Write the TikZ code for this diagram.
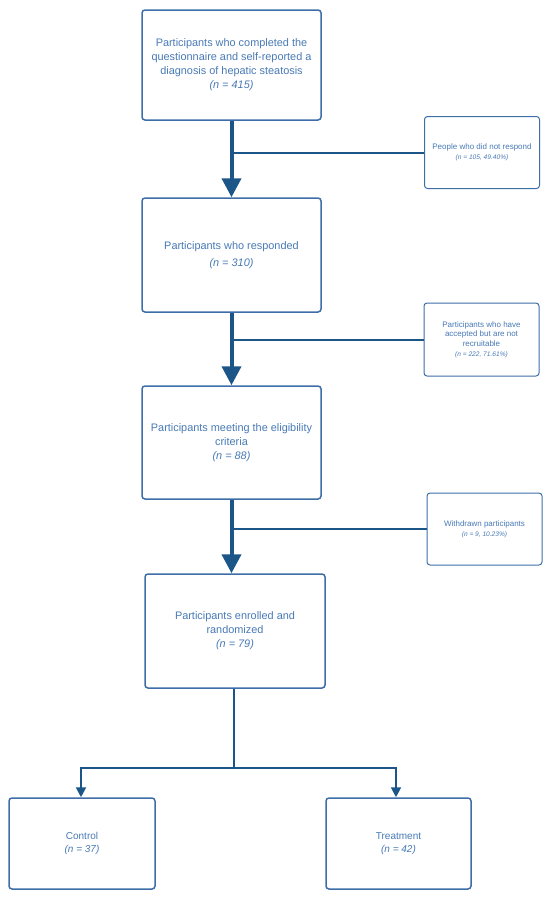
\documentclass[tikz,border=0pt]{standalone}
\usepackage{fontspec}
\setmainfont{Liberation Sans}
\usetikzlibrary{arrows.meta}
\definecolor{boxc}{RGB}{62,110,168}
\definecolor{txtc}{RGB}{72,122,182}
\definecolor{arrc}{RGB}{28,86,136}
\tikzset{
  mainbox/.style={draw=boxc, line width=1.5pt, rounded corners=3pt, fill=white,
    inner sep=0pt, align=center, text=txtc, font=\fontsize{10.9}{14}\selectfont},
  sidebox/.style={draw=boxc, line width=1pt, rounded corners=3pt, fill=white,
    inner sep=0pt, align=center, text=txtc, font=\fontsize{8}{9.6}\selectfont},
  bigarrow/.style={draw=arrc, line width=4pt, -{Triangle[width=19pt,length=19pt]}},
  sideline/.style={draw=arrc, line width=2pt},
  branch/.style={draw=arrc, line width=2pt},
  smallarrow/.style={draw=arrc, line width=2pt, -{Triangle[width=10pt,length=10pt]}},
}
\newcommand{\smallit}[1]{{\fontsize{6.6}{8}\selectfont\textit{#1}}}
\begin{document}
\begin{tikzpicture}[x=1pt,y=-1pt]
\useasboundingbox (0,0) rectangle (550,900);
\node[mainbox, minimum width=179pt, minimum height=110pt] (b1) at (231.5,65)
  {Participants who completed the\\questionnaire and self-reported a\\diagnosis of hepatic steatosis\\\textit{(n = 415)}};
\node[mainbox, minimum width=179pt, minimum height=114pt] (b2) at (231.5,255)
  {Participants who responded\\[3pt]\textit{(n = 310)}};
\node[mainbox, minimum width=179pt, minimum height=113pt] (b3) at (231.5,442.5)
  {Participants meeting the eligibility\\criteria\\\textit{(n = 88)}};
\node[mainbox, minimum width=180pt, minimum height=114pt] (b4) at (235,631)
  {Participants enrolled and\\randomized\\\textit{(n = 79)}};
\node[sidebox, minimum width=115pt, minimum height=72pt] (s1) at (482,152.5)
  {People who did not respond\\\smallit{(n = 105, 49.40\%)}};
\node[sidebox, minimum width=115pt, minimum height=73pt] (s2) at (481.5,339.5)
  {Participants who have\\accepted but are not\\recruitable\\\smallit{(n = 222, 71.61\%)}};
\node[sidebox, minimum width=115pt, minimum height=72pt] (s3) at (484.5,529)
  {Withdrawn participants\\\smallit{(n = 9, 10.23\%)}};
\node[mainbox, minimum width=146pt, minimum height=91pt, font=\fontsize{10}{12.5}\selectfont] (c) at (82,843.5)
  {Control\\\textit{(n = 37)}};
\node[mainbox, minimum width=145pt, minimum height=91pt, font=\fontsize{10}{12.5}\selectfont] (t) at (398.5,843.5)
  {Treatment\\\textit{(n = 42)}};
% main flow
\coordinate (j1) at (231.5,152.5);
\coordinate (j2) at (231.5,339.5);
\coordinate (j3) at (231.5,529);
\draw[bigarrow] (b1.south) -- (b2.north);
\draw[bigarrow] (b2.south) -- (b3.north);
\draw[bigarrow] (b3.south) -- (b4.north -| b3.south);
\draw[sideline] (j1) -- (s1.west);
\draw[sideline] (j2) -- (s2.west);
\draw[sideline] (j3) -- (s3.west);
% branch
\coordinate (bm) at (234,768);
\coordinate (bl) at (81,768);
\coordinate (br) at (396,768);
\draw[branch] (b4.south -| bm) -- (bm);
\draw[smallarrow] (bm) -- (bl) -- (c.north -| bl);
\draw[smallarrow] (bm) -- (br) -- (t.north -| br);
\end{tikzpicture}
\end{document}
